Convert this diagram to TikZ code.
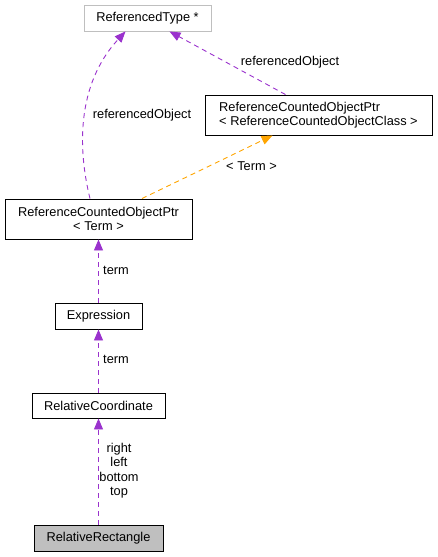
\documentclass[tikz,border=0pt]{standalone}
\usepackage{fontspec}
\setmainfont{Liberation Sans}
\usetikzlibrary{arrows.meta}
\definecolor{edgepurple}{HTML}{9A32CD}
\definecolor{edgeorange}{HTML}{FFA500}
\definecolor{nodegray}{HTML}{BFBFBF}
\definecolor{bordergray}{HTML}{BFBFBF}
\begin{document}
\begin{tikzpicture}[x=1pt,y=-1pt,
  font=\fontsize{12.8}{14.5}\selectfont,
  cls/.style={draw=black,line width=0.9pt,inner sep=0pt,align=center},
  usage/.style={draw=edgepurple,line width=0.9pt,dash pattern=on 5pt off 4pt,
    -{Triangle[length=11pt,width=9pt]}},
  tmpl/.style={draw=edgeorange,line width=0.9pt,dash pattern=on 5pt off 4pt,
    -{Triangle[length=11pt,width=9pt]}},
  lbl/.style={inner sep=0pt,align=center}]
\useasboundingbox (0,0) rectangle (437,557);
\node[cls,draw=bordergray,minimum width=127pt,minimum height=26pt] (rt) at (147.5,18) {ReferencedType *};
\node[cls,minimum width=227pt,minimum height=40pt,align=left] (rc) at (318.5,115) {ReferenceCountedObjectPtr\\\textless{} ReferenceCountedObjectClass \textgreater};
\node[cls,minimum width=187pt,minimum height=40pt] (rt2) at (98.5,219) {ReferenceCountedObjectPtr\\\textless{} Term \textgreater};
\node[cls,minimum width=87pt,minimum height=26pt] (ex) at (98.5,316) {Expression};
\node[cls,minimum width=133pt,minimum height=25pt] (rco) at (98.5,405.5) {RelativeCoordinate};
\node[cls,fill=nodegray,minimum width=129pt,minimum height=26pt] (rr) at (98.5,538) {RelativeRectangle};
% edges
\draw[usage] ([xshift=-8.5pt]rt2.north) .. controls (78,150) and (76,85) .. ([xshift=-22pt]rt.south);
\draw[usage] ([xshift=-33pt]rc.north) -- ([xshift=22pt]rt.south);
\draw[tmpl] ([xshift=43.5pt]rt2.north) -- ([xshift=-46pt]rc.south);
\draw[usage] (ex.north) -- (rt2.south);
\draw[usage] (rco.north) -- (ex.south);
\draw[usage] (rr.north) -- (rco.south);
% labels
\node[lbl] (l1) at (142,115) {referencedObject};
\node[lbl] (l2) at (290,62) {referencedObject};
\node[lbl] (l3) at (251.5,166) {\textless{} Term \textgreater};
\node[lbl] (l4) at (116,270) {term};
\node[lbl] (l5) at (116,359) {term};
\node[lbl] (l6) at (119,470.5) {right\\left\\bottom\\top};
\end{tikzpicture}
\end{document}
